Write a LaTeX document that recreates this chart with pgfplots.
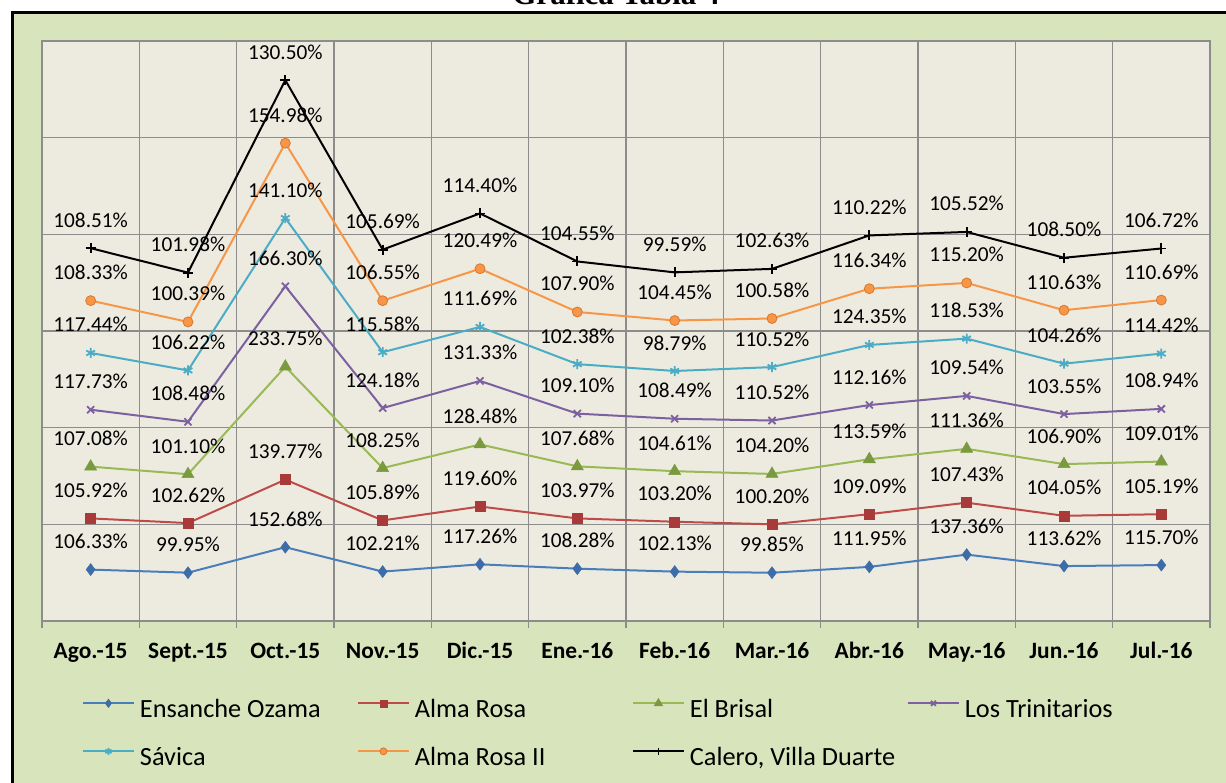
\documentclass[border=0pt]{standalone}
\usepackage{pgfplots}
\pgfplotsset{compat=1.18}
\usepackage{pgfplotstable}
\usepackage{fontspec}
\setmainfont{Carlito}
\newfontfamily\titlefont{Liberation Serif}
\definecolor{chartbg}{HTML}{D8E4BC}
\definecolor{plotbg}{HTML}{EDEBE0}
\definecolor{gridc}{HTML}{8C8C8C}
\definecolor{eoC}{HTML}{4A7EBB}
\definecolor{eoM}{HTML}{3E6CA8}
\definecolor{arC}{HTML}{BE4B48}
\definecolor{arM}{HTML}{A83A3A}
\definecolor{ebC}{HTML}{98B954}
\definecolor{ebM}{HTML}{7A9A3F}
\definecolor{ltC}{HTML}{7D60A0}
\definecolor{saC}{HTML}{4BACC6}
\definecolor{arIIC}{HTML}{F79646}
\definecolor{arIIM}{HTML}{D9782E}

\pgfplotstableread{
x EO AR EB LT SA ARII CA
0 106.33 105.92 107.08 117.73 117.44 108.33 108.51
1 99.95 102.62 101.10 108.48 106.22 100.39 101.98
2 152.68 139.77 233.75 166.30 141.10 154.98 130.50
3 102.21 105.89 108.25 124.18 115.58 106.55 105.69
4 117.26 119.60 128.48 131.33 111.69 120.49 114.40
5 108.28 103.97 107.68 109.10 102.38 107.90 104.55
6 102.13 103.20 104.61 108.49 98.79 104.45 99.59
7 99.85 100.20 104.20 110.52 110.52 100.58 102.63
8 111.95 109.09 113.59 112.16 124.35 116.34 110.22
9 137.36 107.43 111.36 109.54 118.53 115.20 105.52
10 113.62 104.05 106.90 103.55 104.26 110.63 108.50
11 115.70 105.19 109.01 108.94 114.42 110.69 106.72
}\data

\begin{document}
\begin{tikzpicture}
\useasboundingbox (0pt,0pt) rectangle (1226pt,783pt);
\begin{scope}
\clip (0pt,0pt) rectangle (1226pt,783pt);
\fill[white] (0pt,0pt) rectangle (1226pt,783pt);
\fill[chartbg] (12.5pt,0pt) rectangle (1226pt,770.5pt);
\node[font=\titlefont\bfseries\fontsize{31}{36}\selectfont, anchor=base, inner sep=0pt] at (616pt,778pt) {Gráfica Tabla 4};
\draw[line width=3pt] (12.5pt,-5pt) -- (12.5pt,770.5pt) -- (1235pt,770.5pt);
\end{scope}
\begin{axis}[
  at={(42pt,162pt)}, anchor=south west,
  scale only axis, width=1168pt, height=580pt,
  xmin=-0.5, xmax=11.5, ymin=0, ymax=1200,
  stack plots=y,
  clip=false,
  /pgf/number format/assume math mode=true,
  axis background/.style={fill=plotbg},
  axis line style={draw=gridc, line width=1.5pt},
  xtick={0,...,11},
  xticklabels={Ago.-15, Sept.-15, Oct.-15, Nov.-15, Dic.-15, Ene.-16, Feb.-16, Mar.-16, Abr.-16, May.-16, Jun.-16, Jul.-16},
  minor xtick={-0.5,0.5,...,11.5},
  xminorgrids,
  minor grid style={draw=gridc, line width=1.5pt},
  major grid style={draw=gridc, line width=1.5pt},
  ytick={0,200,...,1200},
  yticklabels={,,,,,,,},
  ymajorgrids,
  major tick length=0pt,
  minor tick length=7pt,
  tick align=outside,
  tick pos=left,
  minor tick style={draw=gridc, line width=1.5pt},
  xticklabel style={font=\bfseries\fontsize{23.4}{28}\selectfont, anchor=base, yshift=-38pt, inner sep=0pt},
  point meta=explicit,
  nodes near coords={\pgfmathprintnumber[fixed,fixed zerofill,precision=2,assume math mode=true]{\pgfplotspointmeta}\%},
  every node near coord/.append style={font=\fontsize{21.3}{25}\selectfont, anchor=base, yshift=21pt, inner sep=0pt, text=black},
  legend columns=4,
  legend cell align=left,
  legend image code/.code={\draw[mark repeat=2,mark phase=2,#1] plot coordinates {(0pt,8pt) (25.5pt,8pt) (51pt,8pt)};},
  legend image post style={every mark/.append style={scale=0.7}},
  legend style={draw=none, fill=none, at={(0.0342,-0.1335)}, anchor=north west, inner sep=0pt, outer sep=0pt,
    font=\fontsize{26.3}{30}\selectfont, row sep=23pt, column sep=0pt,
    nodes={inner sep=0pt, text height=19pt, text depth=6pt}},
]
\addplot[color=eoC, line width=2pt, mark=diamond*, mark size=6pt, mark options={fill=eoM, draw=eoM, line width=0.5pt, solid}] table[x=x,y=EO,meta=EO]{\data};
\addlegendentry{\makebox[222pt][l]{\hspace{5pt}Ensanche Ozama}}
\addplot[color=arC, line width=2pt, mark=square*, mark size=5pt, mark options={fill=arM, draw=arM, line width=0.5pt, solid}] table[x=x,y=AR,meta=AR]{\data};
\addlegendentry{\makebox[222pt][l]{\hspace{5pt}Alma Rosa}}
\addplot[color=ebC, line width=2pt, mark=triangle*, mark size=7pt, mark options={fill=ebM, draw=ebM, line width=0.5pt, solid}] table[x=x,y=EB,meta=EB]{\data};
\addlegendentry{\makebox[222pt][l]{\hspace{5pt}El Brisal}}
\addplot[color=ltC, line width=2pt, mark=x, mark size=5pt, mark options={draw=ltC, line width=1.8pt, solid}] table[x=x,y=LT,meta=LT]{\data};
\addlegendentry{\hspace{5pt}Los Trinitarios}
\addplot[color=saC, line width=2pt, mark=asterisk, mark size=5pt, mark options={draw=saC, line width=1.8pt, solid}] table[x=x,y=SA,meta=SA]{\data};
\addlegendentry{\makebox[222pt][l]{\hspace{5pt}Sávica}}
\addplot[color=arIIC, line width=2pt, mark=*, mark size=5pt, mark options={fill=arIIC, draw=arIIM, line width=0.8pt, solid}] table[x=x,y=ARII,meta=ARII]{\data};
\addlegendentry{\makebox[222pt][l]{\hspace{5pt}Alma Rosa II}}
\addplot[color=black, line width=2pt, mark=+, mark size=5pt, mark options={draw=black, line width=1.8pt, solid}] table[x=x,y=CA,meta=CA]{\data};
\addlegendentry{\makebox[222pt][l]{\hspace{5pt}Calero, Villa Duarte}}
\end{axis}
\end{tikzpicture}
\end{document}
